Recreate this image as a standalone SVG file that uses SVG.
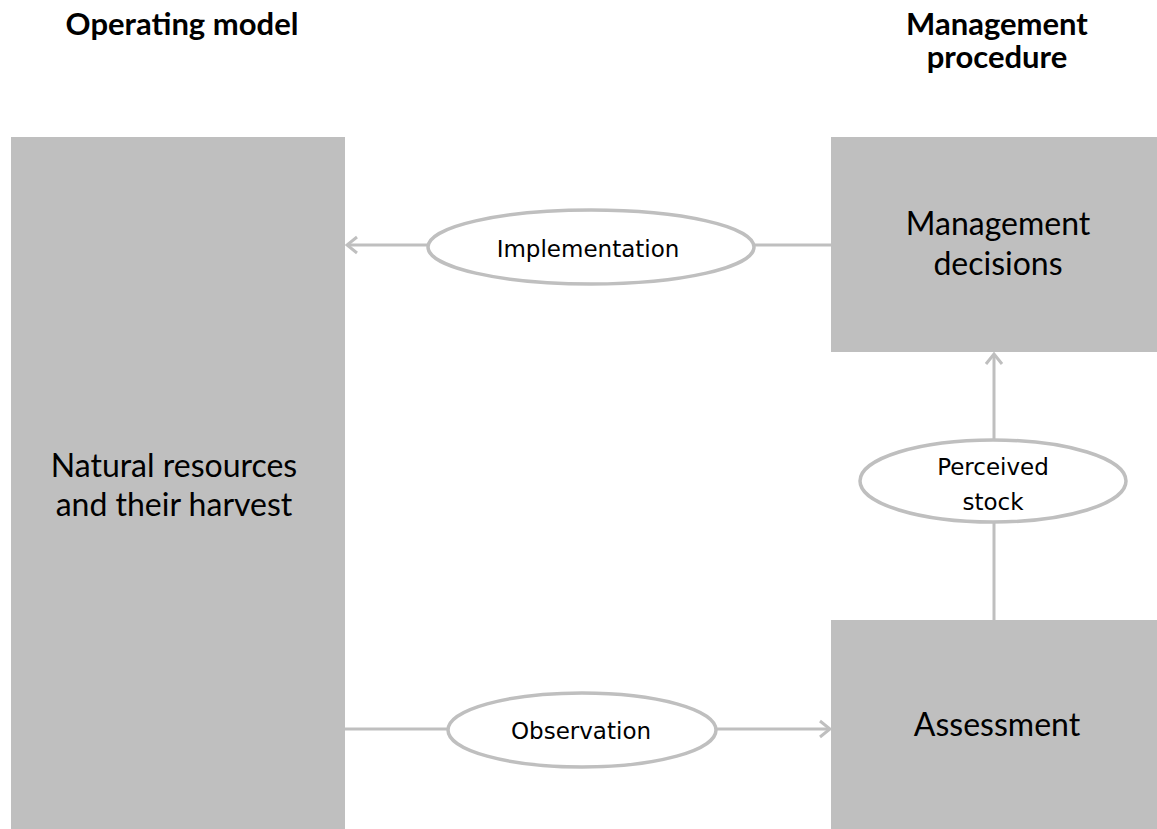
<svg xmlns="http://www.w3.org/2000/svg" width="1157" height="829" viewBox="0 0 1157 829">
<style>
.box{fill:#bfbfbf;}
.conn{stroke:#bfbfbf;stroke-width:3;fill:none;}
.ell{fill:#ffffff;stroke:#bfbfbf;stroke-width:3.5;}
.title{font-family:Lato,"Liberation Sans",sans-serif;font-weight:bold;font-size:31px;fill:#000;text-anchor:middle;}
.btxt{font-family:Lato,"Liberation Sans",sans-serif;font-size:32px;fill:#000;text-anchor:middle;}
.etxt{font-family:"DejaVu Sans","Liberation Sans",sans-serif;font-size:23px;fill:#000;text-anchor:middle;}
</style>
<defs>
<marker id="arr" markerWidth="14" markerHeight="20" refX="12" refY="10" orient="auto" markerUnits="userSpaceOnUse">
<path d="M2,2 L12,10 L2,18" fill="none" stroke="#bfbfbf" stroke-width="3"/>
</marker>
</defs>
<rect width="1157" height="829" fill="#ffffff"/>
<g id="title-om"><text class="title" x="182" y="35">Operating model</text></g>
<g id="title-mp"><text class="title" x="997" y="35">Management</text><text class="title" x="997" y="68">procedure</text></g>
<g id="connectors">
<line class="conn" x1="831" y1="245" x2="347" y2="245" marker-end="url(#arr)"/>
<line class="conn" x1="345" y1="729" x2="830" y2="729" marker-end="url(#arr)"/>
<line class="conn" x1="994" y1="620" x2="994" y2="354" marker-end="url(#arr)"/>
</g>
<g id="natural">
<rect class="box" x="11" y="137" width="334" height="692"/>
<text class="btxt" x="174" y="477">Natural resources</text>
<text class="btxt" x="174" y="516">and their harvest</text>
</g>
<g id="decisions">
<rect class="box" x="831" y="137" width="326" height="215"/>
<text class="btxt" x="998" y="235">Management</text>
<text class="btxt" x="998" y="275">decisions</text>
</g>
<g id="assessment">
<rect class="box" x="831" y="620" width="326" height="209"/>
<text class="btxt" x="997" y="736">Assessment</text>
</g>
<g id="implementation">
<ellipse class="ell" cx="591" cy="247" rx="163" ry="37"/>
<text class="etxt" x="588" y="257">Implementation</text>
</g>
<g id="observation">
<ellipse class="ell" cx="582" cy="730" rx="134" ry="37"/>
<text class="etxt" x="581" y="739">Observation</text>
</g>
<g id="perceived">
<ellipse class="ell" cx="993" cy="481" rx="133" ry="41"/>
<text class="etxt" x="993" y="475">Perceived</text>
<text class="etxt" x="993" y="510">stock</text>
</g>
</svg>
